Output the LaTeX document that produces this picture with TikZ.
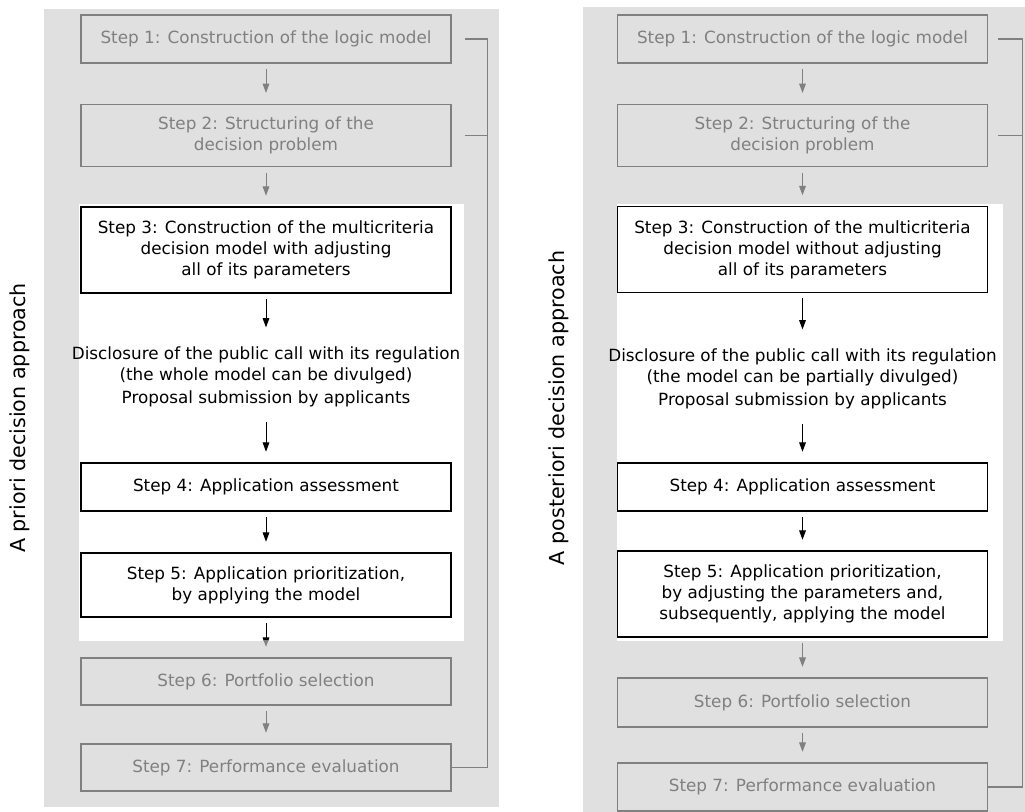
\documentclass[tikz,border=0pt]{standalone}
\usepackage{fontspec}
\setmainfont{DejaVu Sans}
\usepackage{xcolor}
\usetikzlibrary{arrows.meta, positioning}
\definecolor{panelgray}{RGB}{224, 224, 224}
\definecolor{stepgray}{RGB}{128, 128, 128}
\newcommand{\stepfont}{\fontsize{12.6}{15.75}\selectfont}

\begin{document}
\begin{tikzpicture}[x=0.75pt, y=-0.75pt,
    gstep/.style={rectangle, draw=stepgray, fill=panelgray, line width=0.8pt, text=stepgray, minimum width=277.5pt, font=\stepfont, align=center},
    bstep/.style={rectangle, draw=black, fill=white, line width=0.9pt, minimum width=277.5pt, font=\stepfont, align=center},
    note/.style={font=\stepfont, align=center, inner sep=0pt},
    side/.style={font=\fontsize{15.5}{18}\selectfont, rotate=90},
    arr/.style={-{Triangle[length=7pt, width=5pt]}, line width=0.75pt, shorten <=4pt, shorten >=8pt},
    garr/.style={arr, stepgray},
    fbline/.style={stepgray, line width=0.8pt}
]
\useasboundingbox (0,0) rectangle (1025,812);

% ── Panels ──
\fill[panelgray] (44,9) rectangle (499,807);
\fill[panelgray] (583,7) rectangle (1025,812);
\fill[white] (79,204) rectangle (464,641);
\fill[white] (617,204) rectangle (1003,641);

% ── Left: a priori ──
\node[side] (lside) at (20,418) {A priori decision approach};

\node[gstep, minimum height=36pt] (a1) at (266,39) {Step 1: Construction of the logic model};
\node[gstep, minimum height=47pt] (a2) at (266,135.5) {Step 2: Structuring of the\\decision problem};
\node[bstep, minimum height=64.5pt] (a3) at (266,250) {Step 3: Construction of the multicriteria\\decision model with adjusting\\all of its parameters};
\node[note] (adisc) at (266,365) {Disclosure of the public call with its regulation\\(the whole model can be divulged)};
\node[note] (aprop) at (266,399) {Proposal submission by applicants};
\node[bstep, minimum height=36pt] (a4) at (266,487) {Step 4: Application assessment};
\node[bstep, minimum height=48pt] (a5) at (266,585) {Step 5: Application prioritization,\\by applying the model};
\node[gstep, minimum height=35.25pt] (a6) at (266,681.5) {Step 6: Portfolio selection};
\node[gstep, minimum height=35.25pt] (a7) at (266,767.5) {Step 7: Performance evaluation};

\draw[garr] (a1) -- (a2);
\draw[garr] (a2) -- (a3);
\draw[arr, shorten >=14pt] (a3) -- (adisc);
\draw[arr, shorten <=11pt] (aprop) -- (a4);
\draw[arr] (a4) -- (a5);
\begin{scope}
  \clip (0,0) rectangle (1025,641);
  \draw[arr] (a5) -- (a6);
\end{scope}
\begin{scope}
  \clip (0,641) rectangle (1025,812);
  \draw[garr] (a5) -- (a6);
\end{scope}
\draw[garr] (a6) -- (a7);

% feedback
\draw[fbline] (a7.east) -| ([xshift=27pt]a1.east) -- ([xshift=9.75pt]a1.east);
\draw[fbline] ([xshift=9.75pt]a2.east) -- ([xshift=27pt]a2.east);

% ── Right: a posteriori ──
\node[side] (rside) at (559,408) {A posteriori decision approach};

\node[gstep, minimum height=36pt] (b1) at (802.5,39) {Step 1: Construction of the logic model};
\node[gstep, minimum height=47pt] (b2) at (802.5,135.5) {Step 2: Structuring of the\\decision problem};
\node[bstep, minimum height=64.5pt] (b3) at (802.5,249.5) {Step 3: Construction of the multicriteria\\decision model without adjusting\\all of its parameters};
\node[note] (bdisc) at (802.5,367) {Disclosure of the public call with its regulation\\(the model can be partially divulged)};
\node[note] (bprop) at (802.5,401) {Proposal submission by applicants};
\node[bstep, minimum height=36pt] (b4) at (802.5,487) {Step 4: Application assessment};
\node[bstep, minimum height=64.5pt] (b5) at (802.5,594) {Step 5: Application prioritization,\\by adjusting the parameters and,\\subsequently, applying the model};
\node[gstep, minimum height=36.75pt] (b6) at (802.5,702.5) {Step 6: Portfolio selection};
\node[gstep, minimum height=36pt] (b7) at (802.5,787) {Step 7: Performance evaluation};

\draw[garr] (b1) -- (b2);
\draw[garr] (b2) -- (b3);
\draw[arr, shorten >=14pt] (b3) -- (bdisc);
\draw[arr, shorten <=11pt] (bprop) -- (b4);
\draw[arr] (b4) -- (b5);
\begin{scope}
  \clip (0,0) rectangle (1025,641);
  \draw[arr] (b5) -- (b6);
\end{scope}
\begin{scope}
  \clip (0,641) rectangle (1025,812);
  \draw[garr] (b5) -- (b6);
\end{scope}
\draw[garr] (b6) -- (b7);

% feedback
\draw[fbline] (b7.east) -| ([xshift=25.5pt]b1.east) -- ([xshift=7.5pt]b1.east);
\draw[fbline] ([xshift=7.5pt]b2.east) -- ([xshift=25.5pt]b2.east);

\end{tikzpicture}
\end{document}
